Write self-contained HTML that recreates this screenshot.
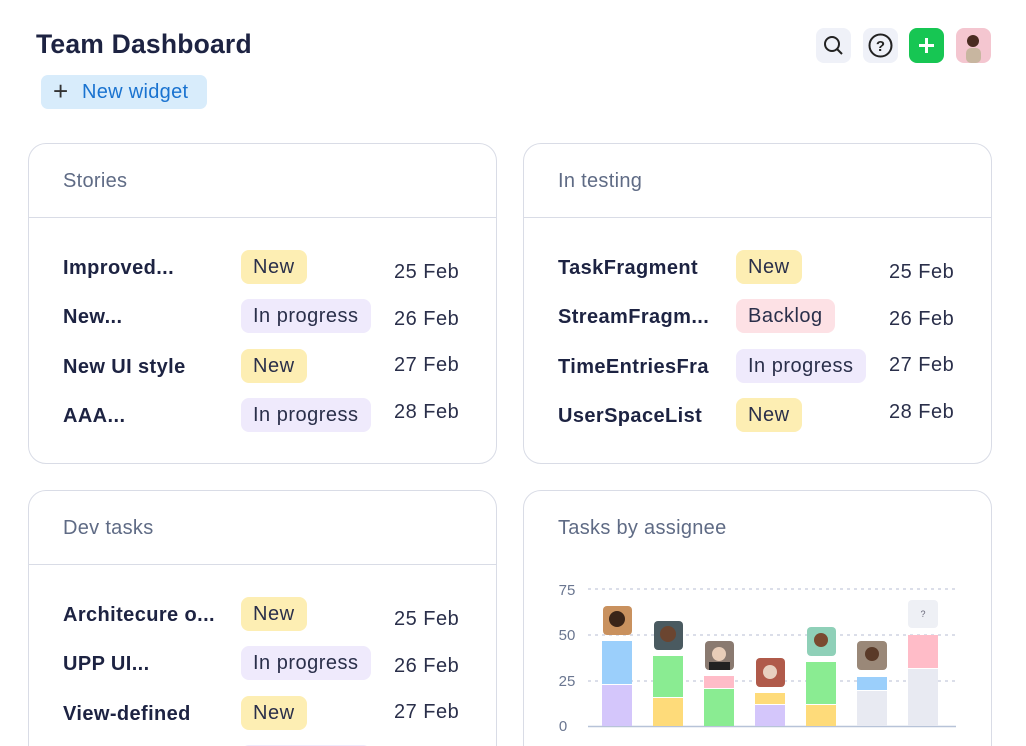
<!DOCTYPE html><html style="overflow:hidden;width:1026px;height:746px"><head><style>
body{margin:0;width:1026px;height:746px;overflow:hidden;background:#fff;font-family:"Liberation Sans",sans-serif;position:relative;color:#1c2240}
.a{position:absolute}
h1{position:absolute;left:36px;top:29px;margin:0;font-size:26.5px;font-weight:700;color:#1d2342;letter-spacing:0.2px}
.btn{position:absolute;left:41px;top:75px;width:166px;height:34px;background:#d8ecfb;border-radius:7px;color:#1a73d0;font-size:20px;line-height:34px;letter-spacing:0.3px}
.ic{position:absolute;top:28px;width:35px;height:35px;border-radius:8px;background:#eff1f8}
.card{position:absolute;border:1px solid #d9dce6;border-radius:18px;background:#fff}
.card .t{position:absolute;left:34px;top:26px;font-size:20px;color:#5f6b85;letter-spacing:0.3px}
.card .d{position:absolute;left:0;right:0;top:73px;border-top:1px solid #d9dce6}
.r{position:absolute;left:34px;font-size:20px;font-weight:700;color:#1d2342;letter-spacing:0.4px}
.b{position:absolute;left:212px;height:34px;line-height:34px;padding:0 12px;border-radius:8px;font-size:20px;color:#2a2f4a;letter-spacing:0.5px}
.n{background:#fdeeb3}.p{background:#efeafc}.k{background:#fde1e5}
.dt{position:absolute;left:365px;font-size:20px;color:#2a2f4a;letter-spacing:0.5px}
</style></head><body>
<h1>Team Dashboard</h1>
<div class="btn"><span style="position:absolute;left:12px;top:-1px;font-size:26px;color:#333">+</span><span style="position:absolute;left:41px">New widget</span></div>
<div class="ic" style="left:816px"><svg width="35" height="35"><circle cx="16" cy="16" r="7" fill="none" stroke="#222" stroke-width="2"/><line x1="21" y1="21" x2="26" y2="26" stroke="#222" stroke-width="2"/></svg></div>
<div class="ic" style="left:863px"><svg width="35" height="35"><circle cx="17.5" cy="17.5" r="11" fill="none" stroke="#222" stroke-width="2"/><text x="17.5" y="23" text-anchor="middle" font-size="15" font-weight="700" fill="#222" font-family="Liberation Sans">?</text></svg></div>
<div class="ic" style="left:909px;background:#17c653"><svg width="35" height="35"><path d="M17.5 10v15M10 17.5h15" stroke="#fff" stroke-width="3"/></svg></div>
<div class="ic" style="left:956px;background:#f4c6d0"><svg width="35" height="35"><circle cx="17" cy="13" r="6" fill="#4a2c22"/><rect x="10" y="20" width="15" height="15" rx="5" fill="#c8b6a0"/></svg></div>

<div class="card" style="left:28px;top:143px;width:467px;height:319px"><div class="t">Stories</div><div class="d"></div>
<div class="r" style="top:113px">Improved...</div><div class="b n" style="top:106px">New</div><div class="dt" style="top:117px">25 Feb</div>
<div class="r" style="top:162px">New...</div><div class="b p" style="top:155px">In progress</div><div class="dt" style="top:164px">26 Feb</div>
<div class="r" style="top:212px">New UI style</div><div class="b n" style="top:205px">New</div><div class="dt" style="top:210px">27 Feb</div>
<div class="r" style="top:261px">AAA...</div><div class="b p" style="top:254px">In progress</div><div class="dt" style="top:257px">28 Feb</div>
</div>
<div class="card" style="left:523px;top:143px;width:467px;height:319px"><div class="t">In testing</div><div class="d"></div>
<div class="r" style="top:113px">TaskFragment</div><div class="b n" style="top:106px">New</div><div class="dt" style="top:117px">25 Feb</div>
<div class="r" style="top:162px">StreamFragm...</div><div class="b k" style="top:155px">Backlog</div><div class="dt" style="top:164px">26 Feb</div>
<div class="r" style="top:212px">TimeEntriesFra</div><div class="b p" style="top:205px">In progress</div><div class="dt" style="top:210px">27 Feb</div>
<div class="r" style="top:261px">UserSpaceList</div><div class="b n" style="top:254px">New</div><div class="dt" style="top:257px">28 Feb</div>
</div>
<div class="card" style="left:28px;top:490px;width:467px;height:300px"><div class="t">Dev tasks</div><div class="d"></div>
<div class="r" style="top:113px">Architecure o...</div><div class="b n" style="top:106px">New</div><div class="dt" style="top:117px">25 Feb</div>
<div class="r" style="top:162px">UPP UI...</div><div class="b p" style="top:155px">In progress</div><div class="dt" style="top:164px">26 Feb</div>
<div class="r" style="top:212px">View-defined</div><div class="b n" style="top:205px">New</div><div class="dt" style="top:210px">27 Feb</div>
<div class="b p" style="top:254px">In progress</div>
</div>
<div class="card" style="left:523px;top:490px;width:467px;height:300px"><div class="t">Tasks by assignee</div></div>
<svg class="a" style="left:0;top:0" width="1026" height="746" font-family="Liberation Sans">
<g stroke="#c5c9dc" stroke-dasharray="3,4" stroke-width="1.2"><line x1="588" y1="589" x2="958" y2="589"/><line x1="588" y1="635" x2="958" y2="635"/><line x1="588" y1="681" x2="958" y2="681"/></g>
<line x1="588" y1="726.5" x2="956" y2="726.5" stroke="#b7c3d8" stroke-width="1.5"/>
<g fill="#6a7690" font-size="15" text-anchor="middle"><text x="567" y="595">75</text><text x="567" y="640">50</text><text x="567" y="686">25</text><text x="563" y="731">0</text></g>
<rect x="602" y="685" width="30" height="41" fill="#d4c6fb"/><rect x="602" y="641" width="30" height="43" fill="#9bcffb"/>
<rect x="653" y="698" width="30" height="28" fill="#fedb7a"/><rect x="653" y="656" width="30" height="41" fill="#8aec92"/>
<rect x="704" y="689" width="30" height="37" fill="#8aec92"/><rect x="704" y="676" width="30" height="12" fill="#ffbcc8"/>
<rect x="755" y="705" width="30" height="21" fill="#d4c6fb"/><rect x="755" y="693" width="30" height="11" fill="#fedb7a"/>
<rect x="806" y="705" width="30" height="21" fill="#fedb7a"/><rect x="806" y="662" width="30" height="42" fill="#8aec92"/>
<rect x="857" y="691" width="30" height="35" fill="#e8eaf2"/><rect x="857" y="677" width="30" height="13" fill="#9bcffb"/>
<rect x="908" y="669" width="30" height="57" fill="#e8eaf2"/><rect x="908" y="635" width="30" height="33" fill="#ffbcc8"/>
<rect x="603" y="606" width="29" height="29" rx="4" fill="#c9915e"/><circle cx="617" cy="619" r="8" fill="#3a2418"/>
<rect x="654" y="621" width="29" height="29" rx="4" fill="#4a5a60"/><circle cx="668" cy="634" r="8" fill="#6b4530"/>
<rect x="705" y="641" width="29" height="29" rx="4" fill="#8a7a70"/><circle cx="719" cy="654" r="7" fill="#e8cdb8"/><rect x="709" y="662" width="21" height="8" fill="#222"/>
<rect x="756" y="658" width="29" height="29" rx="4" fill="#b05a4a"/><circle cx="770" cy="672" r="7" fill="#e8d0c0"/>
<rect x="807" y="627" width="29" height="29" rx="4" fill="#8fd0b8"/><circle cx="821" cy="640" r="7" fill="#7a4a30"/>
<rect x="857" y="641" width="30" height="29" rx="4" fill="#9a8878"/><circle cx="872" cy="654" r="7" fill="#5a3a28"/>
<rect x="908" y="600" width="30" height="28" rx="4" fill="#eef0f5"/><text x="923" y="617" text-anchor="middle" font-size="9" fill="#667">?</text>
</svg>
</body></html>
